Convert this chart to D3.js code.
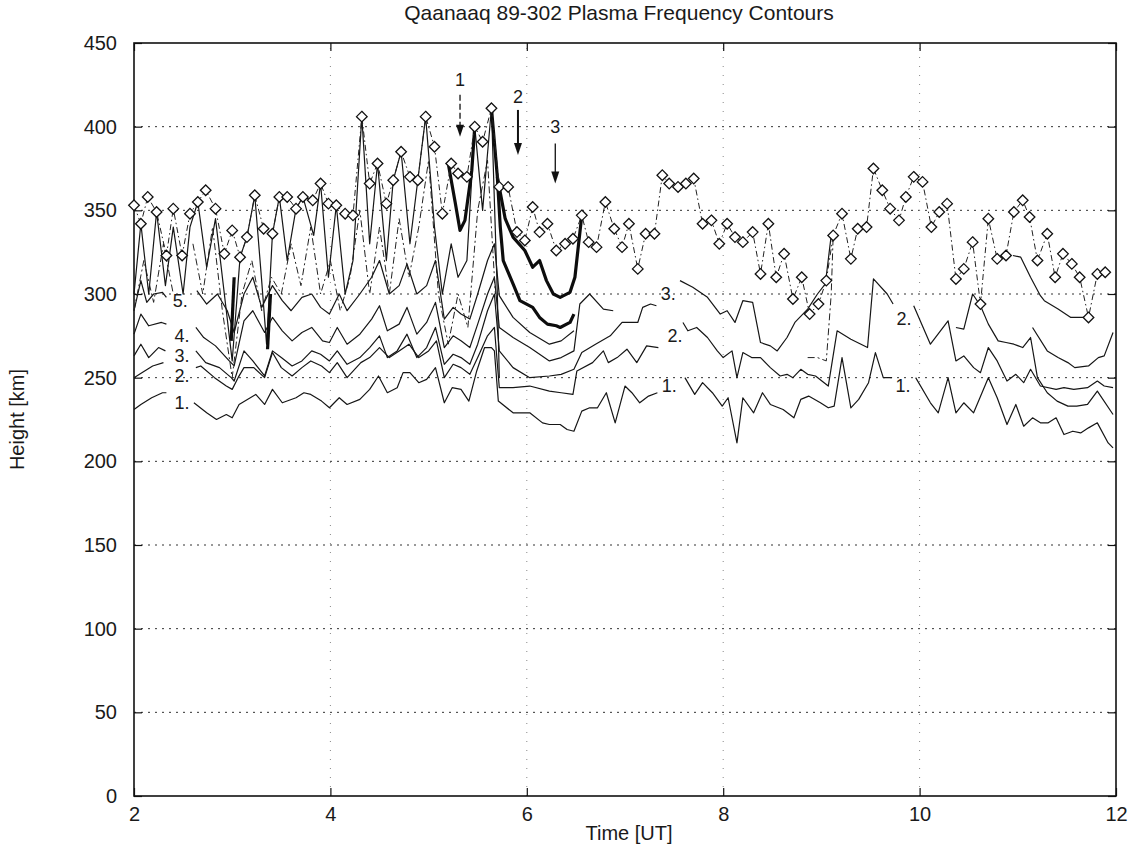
<!DOCTYPE html>
<html>
<head>
<meta charset="utf-8">
<script src="https://cdn.jsdelivr.net/npm/d3@7/dist/d3.min.js"></script>
<style>
  body { margin: 0; background: #fff; }
  svg text { font-family: "Liberation Sans", Arial, sans-serif; fill: #1a1a1a; }
</style>
</head>
<body>
<svg id="myGraph" width="1130" height="846"></svg>
<script>
var svgWidth = 1130;
var svgHeight = 846;

// tick values
var xTicks = [2, 4, 6, 8, 10, 12];
var yTicks = [0, 50, 100, 150, 200, 250, 300, 350, 400, 450];
var gridX = [4, 6, 8, 10];
var gridY = [50, 100, 150, 200, 250, 300, 350, 400];

// peak height (diamonds), [time UT, km]
var peakHeight = [[2.0,353],[2.07,342],[2.14,358],[2.23,349],[2.33,323],[2.4,351],[2.49,323],[2.57,348],[2.65,355],[2.73,362],[2.83,351],[2.92,324],[3.0,338],[3.08,322],[3.15,334],[3.23,359],[3.32,339],[3.41,336],[3.48,358],[3.56,358],[3.65,351],[3.72,358],[3.82,356],[3.9,366],[3.98,354],[4.06,353],[4.15,348],[4.23,347],[4.32,406],[4.4,366],[4.48,378],[4.57,354],[4.64,368],[4.72,385],[4.81,370],[4.89,368],[4.97,406],[5.06,388],[5.14,348],[5.23,378],[5.3,372],[5.39,370],[5.47,400],[5.55,391],[5.64,411],[5.72,364],[5.81,364],[5.9,337],[5.98,332],[6.06,352],[6.13,337],[6.21,342],[6.3,326],[6.39,330],[6.47,333],[6.56,347],[6.63,331],[6.71,328],[6.8,355],[6.89,339],[6.97,328],[7.04,342],[7.13,315],[7.21,336],[7.3,336],[7.38,371],[7.45,366],[7.54,364],[7.62,366],[7.7,369],[7.79,342],[7.88,344],[7.96,330],[8.04,342],[8.12,334],[8.2,331],[8.3,337],[8.38,312],[8.46,342],[8.54,310],[8.62,324],[8.71,297],[8.8,310],[8.88,288],[8.97,294],[9.05,308],[9.12,335],[9.21,348],[9.3,321],[9.37,339],[9.46,340],[9.53,375],[9.62,362],[9.7,351],[9.79,344],[9.86,358],[9.94,370],[10.03,367],[10.12,340],[10.2,349],[10.28,354],[10.37,309],[10.45,315],[10.54,331],[10.62,294],[10.7,345],[10.79,321],[10.88,323],[10.96,349],[11.05,356],[11.12,346],[11.2,320],[11.3,336],[11.38,310],[11.46,324],[11.55,318],[11.63,310],[11.72,286],[11.81,312],[11.89,313]];

// plasma frequency contours, null = break in the line
var contour1 = [[2.0,231],[2.07,234],[2.18,238],[2.29,241],[2.33,241],null,[2.61,235],[2.74,229],[2.84,225],[2.94,228],[3.0,226],[3.07,234],[3.24,240],[3.33,234],[3.41,243],[3.51,235],[3.65,238],[3.73,241],[3.8,240],[3.91,236],[3.99,232],[4.09,238],[4.17,234],[4.3,237],[4.4,243],[4.49,251],[4.58,241],[4.68,244],[4.74,253],[4.81,253],[4.9,247],[4.98,249],[5.07,256],[5.16,235],[5.24,244],[5.33,243],[5.41,236],[5.49,254],[5.57,268],[5.64,268],[5.67,266],[5.71,236],[5.86,229],[6.03,229],[6.16,223],[6.23,222],[6.34,222],[6.41,219],[6.48,218],[6.56,230],[6.64,232],[6.72,232],[6.81,241],[6.9,223],[7.0,245],[7.07,241],[7.15,235],[7.24,239],[7.33,241],null,[7.61,250],[7.71,240],[7.79,247],[7.89,241],[7.99,233],[8.05,238],[8.14,211],[8.2,238],[8.31,229],[8.4,241],[8.48,234],[8.61,231],[8.72,226],[8.79,237],[8.87,239],[8.99,235],[9.07,232],[9.13,233],[9.21,262],[9.3,232],[9.38,237],[9.48,247],[9.55,265],[9.63,250],[9.72,250],null,[9.96,250],[10.11,235],[10.19,229],[10.29,250],[10.37,229],[10.45,235],[10.55,229],[10.7,250],[10.79,238],[10.89,222],[10.98,234],[11.06,221],[11.15,226],[11.23,223],[11.31,223],[11.39,226],[11.47,216],[11.56,218],[11.64,217],[11.72,220],[11.81,223],[11.92,211],[11.97,208]];

var contour2 = [[2.0,250],[2.08,253],[2.19,257],[2.3,259],null,[2.63,256],[2.68,257],[2.82,250],[2.94,245],[3.0,243],[3.06,250],[3.12,256],[3.22,256],[3.33,250],[3.41,265],[3.5,256],[3.61,251],[3.71,256],[3.8,260],[3.91,257],[3.99,253],[4.07,259],[4.17,250],[4.31,259],[4.4,262],[4.5,268],[4.6,262],[4.7,266],[4.8,270],[4.9,262],[5.0,266],[5.08,272],[5.16,250],[5.25,258],[5.33,256],[5.42,252],[5.5,262],[5.6,275],[5.67,280],[5.72,244],[5.86,244],[6.03,245],[6.23,242],[6.35,241],[6.47,240],[6.51,254],[6.67,259],[6.78,266],[6.83,259],[6.92,262],[7.02,267],[7.12,259],[7.22,269],[7.34,268],null,[7.59,283],[7.64,278],[7.73,280],[7.84,274],[7.94,266],[8.0,262],[8.09,266],[8.14,250],[8.2,265],[8.29,262],[8.38,262],[8.48,256],[8.58,251],[8.65,252],[8.71,250],[8.79,255],[8.86,252],[8.94,251],[9.07,245],[9.16,278],[9.3,273],[9.47,268],[9.53,309],[9.67,300],[9.73,294],null,[9.94,293],[10.11,270],[10.29,284],[10.37,260],[10.45,263],[10.55,256],[10.62,253],[10.7,268],[10.79,260],[10.89,248],[10.98,252],[11.06,247],[11.13,255],[11.23,245],[11.39,243],[11.47,244],[11.57,243],[11.71,244],[11.81,248],[11.88,245],[11.97,244]];

var contour3 = [[2.0,263],[2.07,270],[2.15,262],[2.25,268],[2.32,266],null,[2.63,266],[2.73,259],[2.87,256],[2.99,250],[3.02,248],[3.12,266],[3.21,260],[3.33,251],[3.41,266],[3.5,262],[3.61,257],[3.71,260],[3.81,266],[3.9,264],[3.99,260],[4.07,266],[4.17,258],[4.3,262],[4.4,268],[4.5,275],[4.58,262],[4.68,266],[4.78,276],[4.88,262],[4.98,268],[5.07,280],[5.16,258],[5.25,264],[5.33,262],[5.42,258],[5.5,270],[5.6,290],[5.67,300],[5.72,266],[5.86,256],[6.03,250],[6.23,251],[6.35,252],[6.48,255],[6.56,265],[6.7,270],[6.85,275],[6.97,283],[7.13,283],[7.18,292],[7.26,294],[7.32,293],null,[7.56,308],[7.69,304],[7.84,298],[7.97,288],[8.04,290],[8.12,283],[8.2,296],[8.3,295],[8.38,271],[8.48,269],[8.55,266],[8.65,274],[8.73,283],[8.86,291],[8.96,300],[9.04,306],[9.1,335],null,[10.37,280],[10.45,279],[10.54,300],[10.62,293],[10.7,282],[10.8,272],[10.88,271],[10.96,270],[11.05,268],[11.13,274],[11.2,250],[11.3,241],[11.4,236],[11.51,233],[11.6,233],[11.71,234],[11.81,242],[11.97,228]];

var contour4 = [[2.0,276],[2.07,288],[2.15,281],[2.28,283],[2.33,282],null,[2.63,280],[2.71,274],[2.83,269],[2.97,260],[3.02,257],[3.12,284],[3.21,290],[3.33,277],[3.41,286],[3.51,278],[3.61,272],[3.71,277],[3.81,280],[3.92,272],[3.99,271],[4.07,280],[4.17,270],[4.3,276],[4.42,285],[4.5,293],[4.58,278],[4.7,282],[4.78,292],[4.88,276],[4.98,283],[5.07,295],[5.16,268],[5.25,275],[5.33,272],[5.42,268],[5.5,282],[5.6,300],[5.67,310],[5.72,280],[5.86,274],[6.03,268],[6.23,260],[6.35,262],[6.48,266],[6.54,294],[6.64,300],[6.78,291],[6.88,290],null,[11.15,280],[11.3,266],[11.41,262],[11.51,259],[11.58,256],[11.72,257],[11.82,262],[11.88,263],[11.97,277]];

var contour5 = [[2.0,290],[2.07,308],[2.13,295],[2.2,300],[2.29,301],[2.33,298],null,[2.64,302],[2.74,294],[2.85,300],[2.95,290],[3.02,277],[3.12,300],[3.21,310],[3.3,292],[3.41,305],[3.51,296],[3.6,290],[3.71,298],[3.81,300],[3.9,292],[3.99,288],[4.09,300],[4.17,290],[4.3,300],[4.42,310],[4.5,320],[4.6,300],[4.7,305],[4.78,318],[4.88,300],[4.98,305],[5.07,320],[5.16,285],[5.25,292],[5.33,288],[5.42,285],[5.5,300],[5.6,320],[5.67,330],[5.72,299],[5.86,286],[6.03,277],[6.23,270],[6.35,272],[6.48,278],null,[10.95,323],[11.03,322],[11.13,310],[11.23,299],[11.27,296],[11.41,291],[11.54,286],[11.71,286]];

// unlabelled upper contours (spiky, reaching the peak heights)
var contour6 = [[2.0,300],[2.07,342],[2.15,300],[2.23,349],[2.32,305],[2.4,340],[2.5,300],[2.57,340],[2.65,355],[2.74,316],[2.83,345],[2.92,300],[3.0,260],[3.08,322],[3.15,334],[3.23,359],[3.3,308],[3.35,270],[3.41,336],[3.48,358],[3.56,320],[3.65,351],[3.72,358],[3.83,335],[3.9,366],[3.98,310],[4.06,353],[4.15,300],[4.23,320],[4.32,406],[4.4,330],[4.48,378],[4.57,320],[4.64,368],[4.72,385],[4.81,330],[4.89,368],[4.97,406],[5.06,340],[5.14,300],[5.23,330],[5.3,310],[5.39,320],[5.47,400],[5.55,350],[5.64,411],[5.7,300],[5.72,250]];
var contour7 = [[2.0,290],[2.1,320],[2.2,295],[2.3,330],[2.4,300],null,[2.6,330],[2.7,300],[2.8,340],[2.9,290],[3.0,250],[3.1,300],[3.2,320],[3.3,290],[3.4,310],[3.5,300],[3.6,330],[3.7,305],[3.8,340],[3.9,300],[4.0,320],[4.1,290],[4.2,310],[4.3,350],[4.4,300],[4.5,340],[4.6,300],[4.7,345],[4.8,310],[4.9,340],[5.0,380],[5.1,300],[5.2,270],[5.3,300],[5.4,280],[5.5,350],[5.6,380],[5.68,300],null,[8.86,262],[8.96,262],[9.05,260],[9.1,300],[9.12,335]];

// heavy contours
var boldA = [[3.02,310],[2.99,272]];
var boldB = [[3.39,300],[3.36,267]];
var boldC = [[5.2,378],[5.27,355],[5.32,338],[5.37,344],[5.44,374],[5.47,400]];
var boldD = [[5.64,411],[5.7,370],[5.73,340],[5.76,320],[5.86,306],[5.93,296],[6.06,292],[6.13,286],[6.21,282],[6.3,281],[6.34,280],[6.44,283],[6.48,288]];
var boldE = [[5.7,370],[5.78,345],[5.86,334],[5.98,326],[6.06,316],[6.13,320],[6.2,308],[6.27,300],[6.34,298],[6.44,301],[6.49,310],[6.52,326],[6.56,347]];

// contour labels: text, time, height
var labelText = ['5.', '4.', '3.', '2.', '1.', '3.', '2.', '1.', '2.', '1.'];
var labelTime = [2.47, 2.49, 2.49, 2.49, 2.49, 7.44, 7.51, 7.45, 9.84, 9.83];
var labelHeight = [296, 275, 263, 251, 235, 300, 275, 245, 285, 245];

// event arrows: label, time, label height, shaft top, tip
var arrowLabel = ['1', '2', '3'];
var arrowTime = [5.32, 5.91, 6.29];
var arrowLabelH = [428, 418, 400];
var arrowTop = [419, 410, 390];
var arrowTip = [394, 383, 366];

var margin = { left: 134, right: 14, top: 43, bottom: 50 };

function drawChart() {
  var svg = d3.select('#myGraph');
  var x = d3.scaleLinear().domain([2, 12]).range([margin.left, svgWidth - margin.right]);
  var y = d3.scaleLinear().domain([0, 450]).range([svgHeight - margin.bottom, margin.top]);

  var line = d3.line()
    .defined(function(d) { return d !== null; })
    .x(function(d) { return x(d[0]); })
    .y(function(d) { return y(d[1]); });

  // dotted grid
  svg.append('g').selectAll('line')
    .data(gridY)
    .enter()
    .append('line')
    .attr('x1', x(2)).attr('x2', x(12))
    .attr('y1', function(d) { return y(d); })
    .attr('y2', function(d) { return y(d); })
    .style('stroke', '#333')
    .style('stroke-width', 1)
    .style('stroke-dasharray', '2,5');

  svg.append('g').selectAll('line')
    .data(gridX)
    .enter()
    .append('line')
    .attr('x1', function(d) { return x(d); })
    .attr('x2', function(d) { return x(d); })
    .attr('y1', y(0)).attr('y2', y(450))
    .style('stroke', '#888')
    .style('stroke-width', 1)
    .style('stroke-dasharray', '1,8');

  // axes: labels outside, ticks inside
  var fontSize = '20px';
  svg.append('g')
    .attr('transform', 'translate(0,' + y(0) + ')')
    .call(d3.axisBottom(x).tickValues(xTicks).tickSizeInner(-8).tickSizeOuter(0).tickPadding(11));
  svg.append('g')
    .attr('transform', 'translate(' + x(2) + ',0)')
    .call(d3.axisLeft(y).tickValues(yTicks).tickSizeInner(-8).tickSizeOuter(0).tickPadding(17));
  svg.append('g')
    .attr('transform', 'translate(0,' + y(450) + ')')
    .call(d3.axisTop(x).tickValues(xTicks).tickSizeInner(-8).tickSizeOuter(0).tickFormat(''));
  svg.append('g')
    .attr('transform', 'translate(' + x(12) + ',0)')
    .call(d3.axisRight(y).tickValues(yTicks).tickSizeInner(-8).tickSizeOuter(0).tickFormat(''));

  svg.selectAll('.domain').remove();
  svg.selectAll('.tick line').style('stroke', '#111').style('stroke-width', 1.2);
  svg.selectAll('.tick text')
    .style('font-size', fontSize)
    .style('font-family', '"Liberation Sans", Arial, sans-serif')
    .style('fill', '#1a1a1a');

  svg.append('rect')
    .attr('x', x(2)).attr('y', y(450))
    .attr('width', x(12) - x(2))
    .attr('height', y(0) - y(450))
    .style('fill', 'none')
    .style('stroke', '#111')
    .style('stroke-width', 1.6);

  // thin contour lines
  var thin = [contour1, contour2, contour3, contour4, contour5, contour6];
  svg.append('g').selectAll('path')
    .data(thin)
    .enter()
    .append('path')
    .attr('d', line)
    .style('fill', 'none')
    .style('stroke', '#161616')
    .style('stroke-width', 1.2)
    .style('stroke-linejoin', 'round');

  svg.append('path')
    .datum(contour7)
    .attr('d', line)
    .style('fill', 'none')
    .style('stroke', '#222')
    .style('stroke-width', 1)
    .style('stroke-dasharray', '7,3,2,3');

  // heavy contours
  svg.append('g').selectAll('path')
    .data([boldA, boldB, boldC, boldD, boldE])
    .enter()
    .append('path')
    .attr('d', line)
    .style('fill', 'none')
    .style('stroke', '#0d0d0d')
    .style('stroke-width', 3.2)
    .style('stroke-linejoin', 'round');

  // peak height: dash-dot line with open diamonds
  svg.append('path')
    .datum(peakHeight)
    .attr('d', line)
    .style('fill', 'none')
    .style('stroke', '#222')
    .style('stroke-width', 1)
    .style('stroke-dasharray', '6,3,1.5,3');

  svg.append('g').selectAll('path')
    .data(peakHeight)
    .enter()
    .append('path')
    .attr('transform', function(d) { return 'translate(' + x(d[0]) + ',' + y(d[1]) + ')'; })
    .attr('d', 'M0,-5.3L5.3,0L0,5.3L-5.3,0Z')
    .style('fill', '#fff')
    .style('stroke', '#111')
    .style('stroke-width', 1.3);

  // contour labels
  svg.append('g').selectAll('text')
    .data(labelText)
    .enter()
    .append('text')
    .attr('x', function(d, i) { return x(labelTime[i]); })
    .attr('y', function(d, i) { return y(labelHeight[i]); })
    .attr('text-anchor', 'middle')
    .attr('dominant-baseline', 'central')
    .style('font-size', '18px')
    .text(function(d) { return d; });

  // arrows
  var arrows = svg.append('g').selectAll('g')
    .data(arrowLabel)
    .enter()
    .append('g');

  arrows.append('text')
    .attr('x', function(d, i) { return x(arrowTime[i]); })
    .attr('y', function(d, i) { return y(arrowLabelH[i]); })
    .attr('text-anchor', 'middle')
    .attr('dominant-baseline', 'central')
    .style('font-size', '18px')
    .text(function(d) { return d; });

  arrows.append('line')
    .attr('x1', function(d, i) { return x(arrowTime[i]); })
    .attr('x2', function(d, i) { return x(arrowTime[i]); })
    .attr('y1', function(d, i) { return y(arrowTop[i]); })
    .attr('y2', function(d, i) { return y(arrowTip[i]) - 8; })
    .style('stroke', '#111')
    .style('stroke-width', function(d, i) { return i === 1 ? 2 : 1.3; })
    .style('stroke-dasharray', function(d, i) { return i === 0 ? '6,3' : null; });

  arrows.append('path')
    .attr('transform', function(d, i) { return 'translate(' + x(arrowTime[i]) + ',' + y(arrowTip[i]) + ')'; })
    .attr('d', 'M0,0L-4,-12L4,-12Z')
    .style('fill', '#111');

  // titles
  svg.append('text')
    .attr('x', 619).attr('y', 20)
    .attr('text-anchor', 'middle')
    .style('font-size', '21px')
    .text('Qaanaaq 89-302 Plasma Frequency Contours');

  svg.append('text')
    .attr('x', (x(2) + x(12)) / 2 + 4).attr('y', 840)
    .attr('text-anchor', 'middle')
    .style('font-size', fontSize)
    .text('Time [UT]');

  svg.append('text')
    .attr('transform', 'translate(24,' + (y(0) + y(450)) / 2 + ') rotate(-90)')
    .attr('text-anchor', 'middle')
    .style('font-size', fontSize)
    .text('Height [km]');
}

(function() {
  drawChart();
}());
</script>
</body>
</html>
